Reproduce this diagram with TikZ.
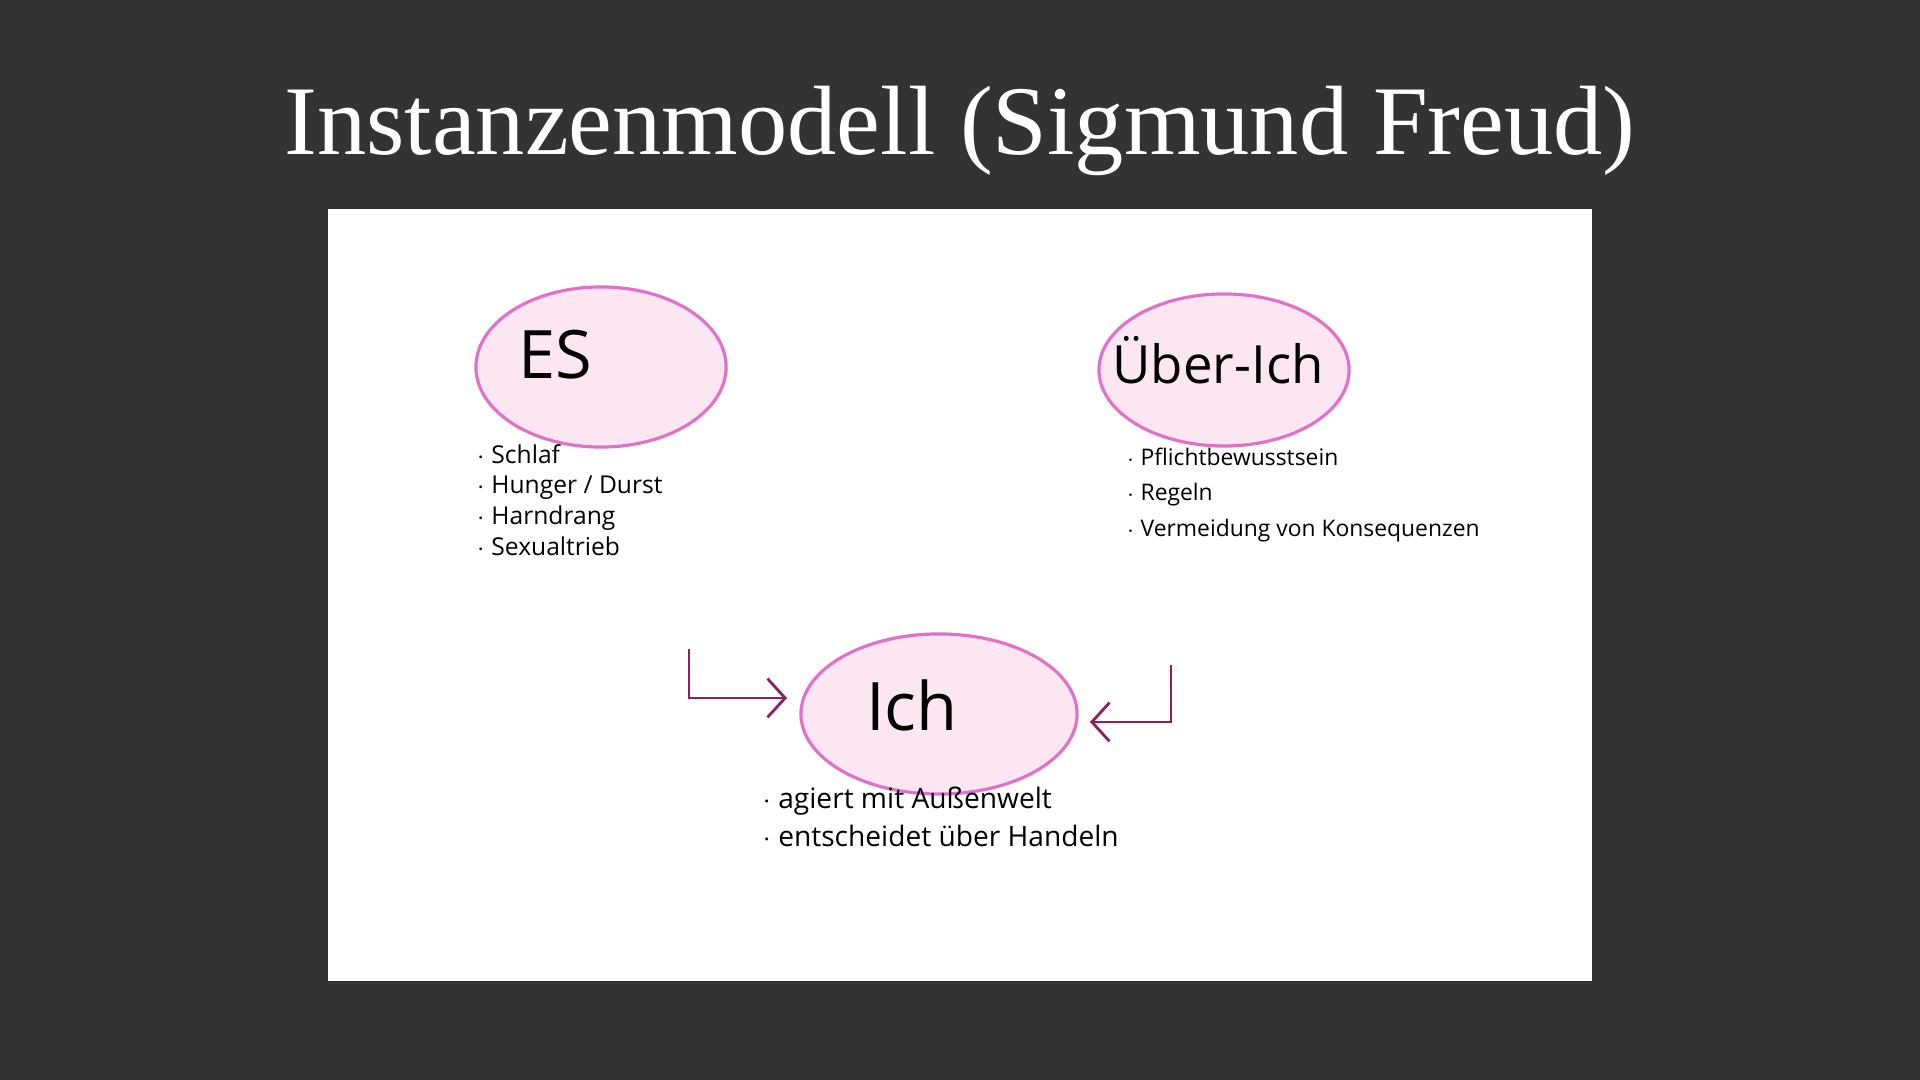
\documentclass[tikz,border=0pt]{standalone}
\usepackage{fontspec}
\setmainfont{Liberation Serif}
\newfontfamily\hand{Open Sans}
\usetikzlibrary{shapes.geometric,arrows.meta}
\definecolor{slate}{HTML}{333333}
\definecolor{pinkfill}{HTML}{FCE6F2}
\definecolor{pinkline}{HTML}{E070C8}
\definecolor{plum}{HTML}{8E1F62}
\begin{document}
\begin{tikzpicture}[x=0.01cm,y=-0.01cm]
    \tikzstyle{instanz}=[ellipse,draw=pinkline,fill=pinkfill,line width=0.9pt]
    \tikzstyle{notes}=[anchor=west,align=left,inner sep=0pt]
    \tikzstyle{pfeil}=[draw=plum,line width=0.8pt,-{Straight Barb[length=5pt,width=11pt]}]

    \fill[slate] (0,0) rectangle (1920,1080);
    \node[text=white,font=\fontsize{28}{32}\selectfont] (title) at (960,131) {Instanzenmodell (Sigmund Freud)};
    \fill[white] (328,209) rectangle (1592,981);

    \node [instanz,minimum width=2.5cm,minimum height=1.6cm] at (601,367) (es) {};
    \node [instanz,minimum width=2.5cm,minimum height=1.52cm] at (1224,370) (ueber) {};
    \node [instanz,minimum width=2.76cm,minimum height=1.6cm] at (939,714) (ich) {};

    \node [font=\hand\fontsize{19}{22}\selectfont] at (555,355) (eslabel) {ES};
    \node [font=\hand\fontsize{15}{18}\selectfont] at (1218,360) (ueberlabel) {Über-Ich};
    \node [font=\hand\fontsize{19}{22}\selectfont] at (912,705) (ichlabel) {Ich};

    \node [notes,font=\hand\fontsize{7}{8.7}\selectfont] at (476,500) (esnotes) {$\cdot$ Schlaf\\$\cdot$ Hunger / Durst\\$\cdot$ Harndrang\\$\cdot$ Sexualtrieb};
    \node [notes,font=\hand\fontsize{6.5}{10}\selectfont] at (1126,495) (uebernotes) {$\cdot$ Pflichtbewusstsein\\$\cdot$ Regeln\\$\cdot$ Vermeidung von Konsequenzen};
    \node [notes,font=\hand\fontsize{8}{11}\selectfont] at (762,817) (ichnotes) {$\cdot$ agiert mit Außenwelt\\$\cdot$ entscheidet über Handeln};

    \coordinate (lstart) at (689,649);
    \coordinate (lbend) at (689,698);
    \coordinate (ltip) at (787,698);
    \coordinate (rstart) at (1171,665);
    \coordinate (rbend) at (1171,722);
    \coordinate (rtip) at (1090,722);
    \draw [pfeil] (lstart) -- (lbend) -- (ltip);
    \draw [pfeil] (rstart) -- (rbend) -- (rtip);
\end{tikzpicture}
\end{document}
